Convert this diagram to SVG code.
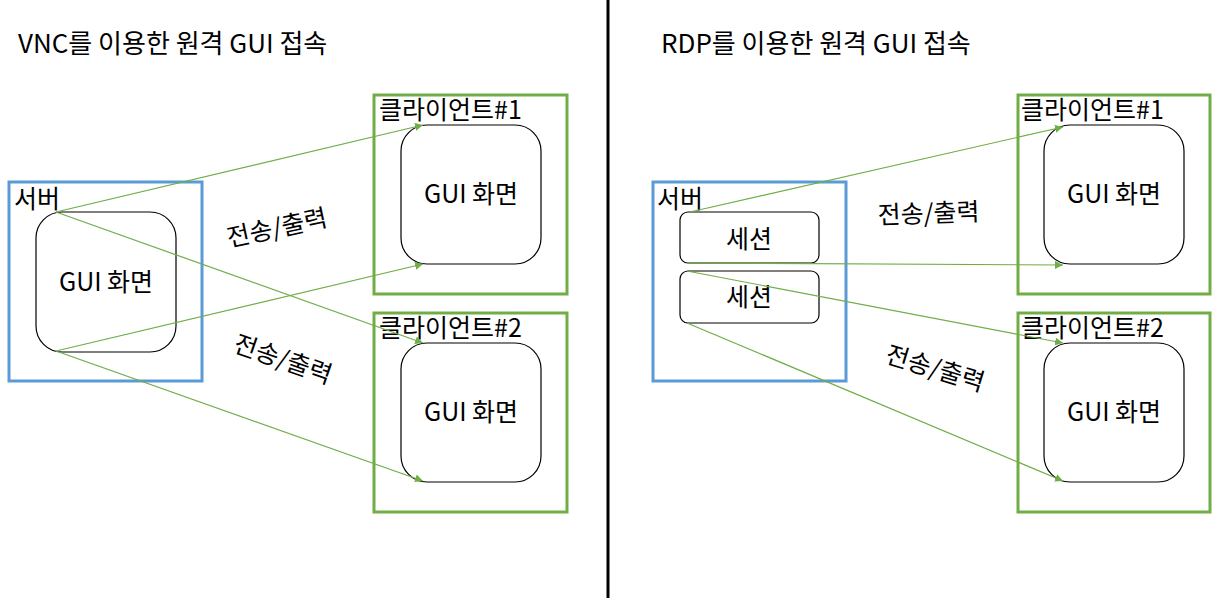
<svg xmlns="http://www.w3.org/2000/svg" width="1212" height="598" viewBox="0 0 1212 598">
<style>
text{font-family:"Malgun Gothic","Noto Sans CJK KR","Noto Sans",sans-serif;font-size:25px;fill:#000}
.title{font-size:26px}
.srv{fill:none;stroke:#5B9BD5;stroke-width:3}
.cli{fill:none;stroke:#70AD47;stroke-width:3}
.scr{fill:#fff;stroke:#000;stroke-width:1.2}
.ses{fill:#fff;stroke:#000;stroke-width:1.2}
.con{stroke:#70AD47;stroke-width:1.2;fill:none;marker-end:url(#ah)}
.mid{text-anchor:middle}
</style>
<defs>
<marker id="ah" viewBox="0 0 10 10" refX="10" refY="5" markerWidth="8" markerHeight="8" orient="auto" markerUnits="userSpaceOnUse">
<path d="M0,0 L10,5 L0,10 z" fill="#70AD47"/>
</marker>
</defs>
<rect width="1212" height="598" fill="#fff"/>
<line x1="608" y1="0" x2="608" y2="598" stroke="#000" stroke-width="3"/>
<text class="title" x="18" y="53">VNC를 이용한 원격 GUI 접속</text>
<text class="title" x="661" y="53">RDP를 이용한 원격 GUI 접속</text>

<g id="vnc-server">
<rect class="srv" x="9" y="182" width="193" height="199"/>
<rect class="scr" x="36" y="212" width="140" height="140" rx="26"/>
<text x="14" y="208">서버</text>
<text class="mid" x="106" y="291">GUI 화면</text>
</g>
<g id="vnc-client1">
<rect class="cli" x="374" y="95" width="193" height="199"/>
<rect class="scr" x="401" y="125" width="140" height="139" rx="26"/>
<text x="379" y="119">클라이언트#1</text>
<text class="mid" x="471" y="203">GUI 화면</text>
</g>
<g id="vnc-client2">
<rect class="cli" x="374" y="313" width="193" height="199"/>
<rect class="scr" x="401" y="343" width="140" height="139" rx="26"/>
<text x="379" y="337">클라이언트#2</text>
<text class="mid" x="471" y="421">GUI 화면</text>
</g>

<g id="rdp-server">
<rect class="srv" x="653" y="182" width="193" height="199"/>
<text x="657" y="208">서버</text>
</g>
<g id="rdp-session1">
<rect class="ses" x="680" y="212" width="139" height="51" rx="8"/>
<text class="mid" x="749" y="248">세션</text>
</g>
<g id="rdp-session2">
<rect class="ses" x="680" y="271" width="139" height="52" rx="8"/>
<text class="mid" x="749" y="306">세션</text>
</g>
<g id="rdp-client1">
<rect class="cli" x="1018" y="95" width="192" height="199"/>
<rect class="scr" x="1044" y="125" width="140" height="139" rx="26"/>
<text x="1021" y="119">클라이언트#1</text>
<text class="mid" x="1114" y="203">GUI 화면</text>
</g>
<g id="rdp-client2">
<rect class="cli" x="1018" y="313" width="192" height="199"/>
<rect class="scr" x="1044" y="343" width="140" height="139" rx="26"/>
<text x="1021" y="337">클라이언트#2</text>
<text class="mid" x="1114" y="421">GUI 화면</text>
</g>

<g id="connectors">
<line class="con" x1="56" y1="212" x2="423" y2="125"/>
<line class="con" x1="56" y1="212" x2="423" y2="343"/>
<line class="con" x1="56" y1="351" x2="423" y2="264"/>
<line class="con" x1="56" y1="351" x2="423" y2="481"/>
<line class="con" x1="690" y1="212" x2="1063" y2="127"/>
<line class="con" x1="687" y1="263" x2="1063" y2="265"/>
<line class="con" x1="687" y1="271" x2="1063" y2="343"/>
<line class="con" x1="687" y1="323" x2="1063" y2="481"/>
<text transform="translate(229,247) rotate(-12)">전송/출력</text>
<text transform="translate(232,351) rotate(19)">전송/출력</text>
<text transform="translate(878,224) rotate(-2)">전송/출력</text>
<text transform="translate(884,362) rotate(17)">전송/출력</text>
</g>
</svg>
